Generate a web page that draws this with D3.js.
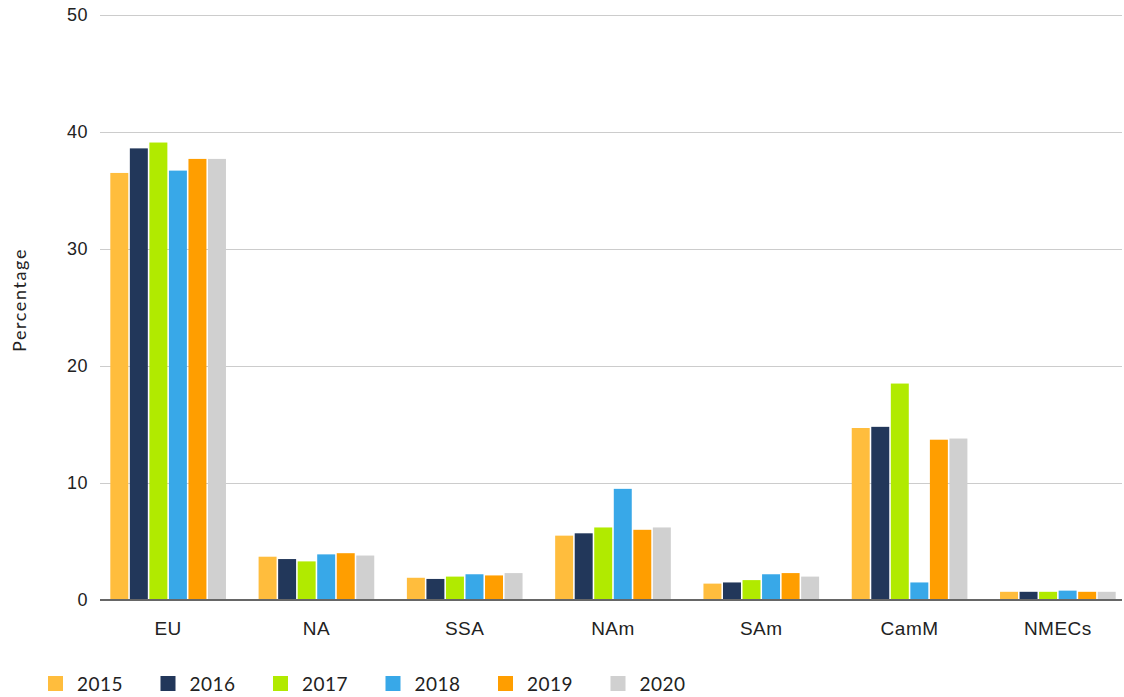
<!DOCTYPE html>
<html>
<head>
<meta charset="utf-8">
<script src="https://cdn.jsdelivr.net/npm/d3@7/dist/d3.min.js"></script>
<style>
  html, body { margin: 0; padding: 0; background: #fff; }
  svg { display: block; font-family: "Lato", "Open Sans", sans-serif; }
</style>
</head>
<body>
<svg id="chart" width="1124" height="697"></svg>
<script>
const regions = ["EU", "NA", "SSA", "NAm", "SAm", "CamM", "NMECs"];
const years = ["2015", "2016", "2017", "2018", "2019", "2020"];
const colors = ["#FFBD3D", "#22375A", "#B1EA00", "#38A8E8", "#FF9E00", "#D0D0D0"];

// Share (%) per region, one array per year
const v2015 = [36.5, 3.7, 1.9, 5.5, 1.4, 14.7, 0.7];
const v2016 = [38.6, 3.5, 1.8, 5.7, 1.5, 14.8, 0.7];
const v2017 = [39.1, 3.3, 2.0, 6.2, 1.7, 18.5, 0.7];
const v2018 = [36.7, 3.9, 2.2, 9.5, 2.2, 1.5, 0.8];
const v2019 = [37.7, 4.0, 2.1, 6.0, 2.3, 13.7, 0.7];
const v2020 = [37.7, 3.8, 2.3, 6.2, 2.0, 13.8, 0.7];
const series = [v2015, v2016, v2017, v2018, v2019, v2020];

const yTicks = [0, 10, 20, 30, 40, 50];

const svg = d3.select("#chart");
const plot = { left: 100, right: 1122, top: 15, bottom: 600 };

const x0 = d3.scaleBand().domain(regions).range([94, 1132]).paddingInner(0.22).paddingOuter(0.11);
const x1 = d3.scaleBand().domain(years).range([0, x0.bandwidth()]).paddingInner(0.08);
const y = d3.scaleLinear().domain([0, 50]).range([plot.bottom, plot.top]);

// Gridlines and y tick labels
const yAxis = d3.axisLeft(y).tickValues(yTicks).tickSize(-(plot.right - plot.left)).tickPadding(12);
const gy = svg.append("g").attr("transform", `translate(${plot.left},0)`).call(yAxis);
gy.select(".domain").remove();
gy.selectAll(".tick line").attr("stroke", "#cccccc").attr("stroke-width", 1);
gy.selectAll(".tick text").attr("fill", "#222").style("font-size", "18px").style("letter-spacing", "0.5px").attr("x", -12);

// Bars
const groups = svg.append("g").selectAll("g").data(regions).join("g")
  .attr("transform", d => `translate(${x0(d)},0)`);
groups.selectAll("rect")
  .data((d, i) => years.map((yr, j) => ({ yr, j, v: series[j][i] })))
  .join("rect")
  .attr("x", d => x1(d.yr))
  .attr("width", x1.bandwidth())
  .attr("y", d => y(d.v))
  .attr("height", d => y(0) - y(d.v))
  .attr("fill", d => colors[d.j]);

// Baseline
svg.append("line")
  .attr("x1", plot.left).attr("x2", plot.right)
  .attr("y1", y(0)).attr("y2", y(0))
  .attr("stroke", "#666").attr("stroke-width", 2);

// Category axis
const xAxis = d3.axisBottom(x0).tickSize(0).tickPadding(22);
const gx = svg.append("g").attr("transform", `translate(0,${plot.bottom})`).call(xAxis);
gx.select(".domain").remove();
gx.selectAll(".tick text").attr("fill", "#222").style("font-size", "19px").style("letter-spacing", "0.5px");

// Y axis title
svg.append("text")
  .attr("transform", "translate(26,300) rotate(-90)")
  .attr("text-anchor", "middle")
  .attr("fill", "#222")
  .style("font-size", "18px")
  .style("letter-spacing", "1.6px")
  .text("Percentage");

// Legend
const legend = svg.append("g").selectAll("g").data(years).join("g")
  .attr("transform", (d, i) => `translate(${48 + i * 112.5},676)`);
legend.append("rect").attr("width", 15).attr("height", 15).attr("fill", (d, i) => colors[i]);
legend.append("text")
  .attr("x", 29).attr("y", 15)
  .attr("fill", "#222")
  .style("font-size", "19px")
  .style("letter-spacing", "0.5px")
  .text(d => d);
</script>
</body>
</html>
